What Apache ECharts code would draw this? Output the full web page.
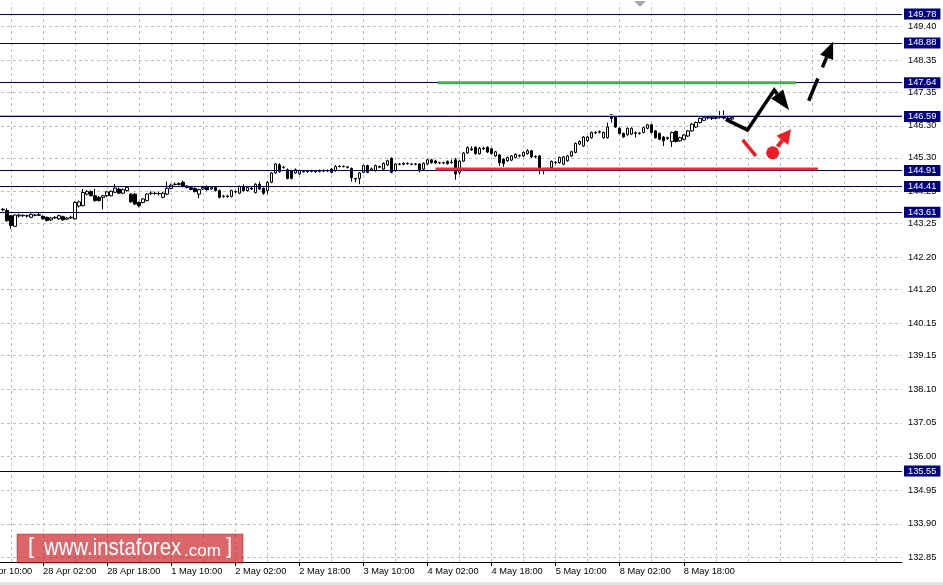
<!DOCTYPE html>
<html><head><meta charset="utf-8">
<script src="https://cdn.jsdelivr.net/npm/echarts@6/dist/echarts.min.js"></script>
<style>html,body{margin:0;padding:0;background:#fff;}#c{width:943px;height:585px;}</style>
</head><body><div id="c"></div>
<script>
// ---- tick labels (every 16 hourly bars) ----
const tickLabels = ['27 Apr 10:00','28 Apr 02:00','28 Apr 18:00','1 May 10:00','2 May 02:00','2 May 18:00','3 May 10:00','4 May 02:00','4 May 18:00','5 May 10:00','8 May 02:00','8 May 18:00'];
const barsPerLabel = 16;
const barsPerGrid = 8;
const firstBarSlot = 6;   // first candle = 27 Apr 16:00
const slotCount = 231;

// ---- H1 candles ----
const opens = [
143.70,143.66,143.50,143.17,143.49,143.51,143.49,143.45,143.51,143.53,
143.48,143.45,143.37,143.43,143.40,143.47,143.39,143.43,143.40,143.80,
143.81,144.17,144.25,144.12,144.07,144.07,144.12,144.12,144.23,144.33,
144.20,144.28,144.17,144.17,143.91,143.91,143.97,144.19,144.20,144.19,
144.07,144.17,144.35,144.48,144.47,144.54,144.42,144.37,144.35,144.17,
144.33,144.41,144.33,144.38,144.28,144.10,144.11,144.10,144.25,144.20,
144.41,144.28,144.36,144.22,144.48,144.35,144.28,144.54,144.83,145.08,
145.01,144.93,144.90,144.83,144.80,144.88,144.87,144.88,144.88,144.88,
144.90,144.89,144.95,144.90,145.03,145.04,145.02,144.97,144.66,144.66,
144.85,145.06,144.92,144.90,145.03,144.95,145.08,145.28,144.90,145.11,
145.10,145.13,145.11,145.10,145.11,144.95,145.11,145.24,145.20,145.15,
145.14,145.19,145.15,145.24,144.85,145.20,145.45,145.55,145.63,145.43,
145.58,145.63,145.58,145.36,145.39,145.26,145.21,145.23,145.31,145.37,
145.36,145.43,145.52,145.34,145.36,144.93,144.94,145.00,145.16,145.15,
145.10,145.21,145.36,145.47,145.73,145.67,145.83,145.93,146.08,146.10,
145.93,145.93,146.64,146.58,146.22,146.06,146.02,146.04,146.08,146.06,
146.09,146.22,146.33,146.14,146.06,145.95,145.90,145.81,146.12,145.83,
145.88,145.98,146.14,146.26,146.40,146.47,146.54,146.55,146.53,146.56,
146.57,146.54,146.51];
const highs = [
143.74,143.73,143.52,143.54,143.56,143.54,143.53,143.57,143.55,143.58,
143.51,143.47,143.46,143.48,143.53,143.50,143.46,143.50,143.95,143.97,
144.33,144.30,144.29,144.33,144.12,144.15,144.27,144.28,144.49,144.38,
144.35,144.41,144.20,144.20,143.94,144.05,144.20,144.26,144.25,144.24,
144.24,144.56,144.50,144.53,144.53,144.59,144.45,144.40,144.38,144.34,
144.43,144.44,144.41,144.41,144.31,144.15,144.15,144.31,144.29,144.44,
144.47,144.41,144.40,144.51,144.56,144.38,144.57,144.86,145.14,145.14,
145.05,144.97,144.93,144.97,144.93,144.91,144.92,144.93,144.91,144.94,
144.94,144.94,144.98,145.07,145.07,145.06,145.04,145.00,144.68,144.86,
145.09,145.09,145.00,145.09,145.06,145.16,145.24,145.32,145.14,145.14,
145.16,145.16,145.14,145.14,145.14,145.16,145.27,145.27,145.24,145.18,
145.18,145.22,145.25,145.30,145.23,145.48,145.66,145.66,145.66,145.64,
145.65,145.66,145.61,145.52,145.42,145.29,145.34,145.39,145.44,145.41,
145.50,145.57,145.55,145.38,145.39,144.97,145.00,145.22,145.20,145.34,
145.36,145.39,145.52,145.78,145.84,145.98,145.98,146.12,146.13,146.15,
146.12,146.40,146.66,146.60,146.25,146.09,146.25,146.25,146.12,146.10,
146.27,146.36,146.36,146.17,146.09,145.98,145.96,146.12,146.15,145.96,
146.04,146.17,146.38,146.43,146.56,146.59,146.60,146.59,146.60,146.76,
146.78,146.60,146.58];
const lows = [
143.64,143.31,143.09,143.15,143.44,143.46,143.44,143.42,143.48,143.49,
143.37,143.32,143.33,143.40,143.37,143.34,143.36,143.40,143.37,143.75,
143.79,144.13,144.10,143.94,143.94,143.70,144.08,144.10,144.20,144.18,
144.17,144.25,143.90,143.83,143.76,143.88,143.94,144.14,144.15,144.13,
144.04,144.14,144.32,144.44,144.44,144.38,144.35,144.29,144.22,144.04,
144.30,144.28,144.30,144.25,144.04,144.06,144.06,144.07,144.20,144.17,
144.25,144.25,144.30,144.19,144.30,144.15,144.17,144.51,144.80,144.84,
144.96,144.63,144.63,144.80,144.77,144.84,144.84,144.85,144.84,144.85,
144.86,144.86,144.82,144.87,145.01,145.00,144.97,144.56,144.54,144.48,
144.82,144.82,144.89,144.87,144.98,144.92,145.05,144.82,144.87,145.07,
145.07,145.09,145.07,145.07,144.85,144.92,145.08,145.12,145.11,145.11,
145.11,145.09,145.12,144.62,144.78,145.17,145.42,145.52,145.40,145.40,
145.54,145.45,145.40,145.33,145.05,145.02,145.18,145.20,145.28,145.32,
145.33,145.40,145.30,145.29,144.79,144.79,144.90,144.97,145.10,145.12,
145.07,145.18,145.33,145.44,145.70,145.64,145.80,145.90,146.04,146.06,
145.90,145.90,146.40,146.23,146.03,145.92,145.99,146.01,145.93,146.02,
146.06,146.19,146.06,145.90,145.85,145.67,145.86,145.64,145.78,145.80,
145.85,145.95,146.11,146.23,146.37,146.44,146.50,146.48,146.50,146.52,
146.50,146.48,146.47];
const closes = [
143.68,143.34,143.19,143.52,143.52,143.50,143.50,143.54,143.52,143.51,
143.40,143.35,143.43,143.45,143.50,143.37,143.43,143.45,143.91,143.93,
144.22,144.25,144.12,143.97,143.97,144.12,144.24,144.26,144.36,144.20,
144.31,144.38,143.93,143.86,143.81,144.02,144.17,144.20,144.19,144.18,
144.20,144.35,144.45,144.47,144.50,144.41,144.38,144.32,144.25,144.31,
144.38,144.31,144.38,144.28,144.07,144.11,144.10,144.28,144.24,144.41,
144.28,144.38,144.33,144.48,144.33,144.20,144.54,144.83,145.11,144.87,
145.00,144.66,144.66,144.93,144.90,144.87,144.88,144.89,144.87,144.90,
144.89,144.90,144.85,145.03,145.04,145.03,145.00,144.69,144.64,144.83,
145.06,144.85,144.96,145.06,145.01,145.13,145.21,144.85,145.11,145.10,
145.13,145.12,145.10,145.11,144.93,145.13,145.24,145.15,145.14,145.14,
145.15,145.12,145.16,144.80,145.20,145.45,145.62,145.58,145.43,145.60,
145.60,145.48,145.43,145.49,145.15,145.12,145.31,145.36,145.41,145.36,
145.47,145.52,145.33,145.33,144.95,144.91,144.95,145.19,145.15,145.31,
145.33,145.36,145.49,145.75,145.81,145.95,145.95,146.09,146.09,146.12,
146.09,146.26,146.53,146.26,146.06,145.95,146.22,146.22,146.06,146.07,
146.24,146.33,146.09,145.93,145.88,145.83,145.93,146.09,145.81,145.93,
146.01,146.14,146.35,146.40,146.53,146.55,146.56,146.53,146.56,146.58,
146.54,146.51,146.55];

// ---- price axis ----
const priceMin = 132.714, priceMax = 150.123;
const gridPrices = [149.40,148.35,147.35,146.30,145.30,144.25,143.25,142.20,141.20,140.15,139.15,138.10,137.05,136.00,134.95,133.90,132.85];
const levelPrices = [149.78,148.88,147.64,146.59,144.91,144.41,143.61,135.55];
const bidPrice = 146.615;

// ---- annotations (slot index, price) ----
const greenLine = [[114.5,147.64],[204,147.64]];
const redLine = [[114,144.95],[209.5,144.95]];
const blackPath = [[186.5,146.50],[191.9,146.17],[198.6,147.41],[202.3,146.79]];
const redDash = [[190.7,145.86],[194,145.36]];
const redDot = [198.2,145.46];
const redArrow = [[199.4,145.65],[202.75,146.19]];
const dashedArrow = [[207.2,147.08],[213.3,148.92]];

const FONT = '"Liberation Sans", Arial, sans-serif';
const slots = Array.from({length: slotCount}, (_, k) => String(k));
const candleData = opens.map((o, i) => [i + firstBarSlot, o, closes[i], lows[i], highs[i]]);
const vGrid = [];
for (let k = barsPerGrid; k < slotCount; k += barsPerGrid) vGrid.push({xAxis: k});
const hasLabel = (i) => i % barsPerLabel === 0 && i / barsPerLabel < tickLabels.length;

function head(a, b, len, half) {
  const dx = b[0]-a[0], dy = b[1]-a[1], d = Math.hypot(dx, dy), ux = dx/d, uy = dy/d;
  const bx = b[0]-ux*len, by = b[1]-uy*len;
  return {tip: b, base: [bx, by], pts: [b, [bx - uy*half, by + ux*half], [bx + uy*half, by - ux*half]]};
}

function renderAnn(params, api) {
  const c = p => api.coord(p);
  const kids = [];
  kids.push({type:'polyline', shape:{points: greenLine.map(c)}, style:{stroke:'#3bb54a', lineWidth:3, fill:null}});
  kids.push({type:'polyline', shape:{points: redLine.map(c)}, style:{stroke:'#ee2b33', lineWidth:3, fill:null}});
  const bp = blackPath.map(c);
  const bh = head(bp[bp.length-2], bp[bp.length-1], 20, 7.5);
  const bpts = bp.slice(0, -1).concat([bh.base]);
  kids.push({type:'polyline', shape:{points: bpts}, style:{stroke:'#000', lineWidth:3.5, fill:null, lineJoin:'miter'}});
  kids.push({type:'polygon', shape:{points: bh.pts}, style:{fill:'#000'}});
  kids.push({type:'polyline', shape:{points: redDash.map(c)}, style:{stroke:'#ee1c25', lineWidth:3.5, fill:null}});
  const dc = c(redDot);
  kids.push({type:'circle', shape:{cx: dc[0], cy: dc[1], r: 6.5}, style:{fill:'#ee1c25'}});
  const ra = redArrow.map(c);
  const rh = head(ra[0], ra[1], 14, 7.5);
  kids.push({type:'line', shape:{x1: ra[0][0], y1: ra[0][1], x2: rh.base[0], y2: rh.base[1]}, style:{stroke:'#ee1c25', lineWidth:4}});
  kids.push({type:'polygon', shape:{points: rh.pts}, style:{fill:'#ee1c25'}});
  const da = dashedArrow.map(c);
  const dh = head(da[0], da[1], 17, 7);
  kids.push({type:'line', shape:{x1: da[0][0], y1: da[0][1], x2: dh.base[0], y2: dh.base[1]}, style:{stroke:'#000', lineWidth:3.5, lineDash:[24,12]}});
  kids.push({type:'polygon', shape:{points: dh.pts}, style:{fill:'#000'}});
  return {type:'group', children: kids};
}

const chart = echarts.init(document.getElementById('c'), null, {renderer:'canvas'});
chart.setOption({
  animation: false,
  backgroundColor: '#ffffff',
  grid: {left: -23, right: 41, top: 3, bottom: 23, containLabel: false, outerBoundsMode: 'none'},
  xAxis: [{
    type: 'category', data: slots, boundaryGap: true,
    axisLine: {show: true, lineStyle: {color: '#000', width: 1}},
    axisTick: {show: true, alignWithLabel: true, length: 4, interval: (i) => hasLabel(i), lineStyle: {color: '#000'}},
    axisLabel: {show: true, interval: (i) => hasLabel(i), align: 'left', margin: 5,
      formatter: (v, i) => (hasLabel(i) ? tickLabels[i / barsPerLabel] : ''),
      color: '#000', fontSize: 9.3, fontFamily: FONT},
    splitLine: {show: false}
  }, {
    type: 'value', show: false, min: -0.5, max: slotCount - 0.5, splitLine: {show: false}
  }],
  yAxis: {
    type: 'value', position: 'right', min: priceMin, max: priceMax, scale: true,
    axisLine: {show: true, lineStyle: {color: '#000', width: 2}},
    axisTick: {show: true, customValues: gridPrices, length: 3, lineStyle: {color: '#000'}},
    axisLabel: {show: true, customValues: gridPrices, margin: 6, formatter: v => v.toFixed(2), color: '#000', fontSize: 9.3, fontFamily: FONT},
    splitLine: {show: false}
  },
  series: [{
    type: 'custom', xAxisIndex: 1, yAxisIndex: 0, z: 10, clip: false, silent: true,
    data: [[0, 140]], renderItem: renderAnn,
    markLine: {
      silent: true, symbol: ['none','none'], z: 1, animation: false,
      label: {show: false},
      lineStyle: {color: '#c0c0c0', width: 1, type: [3,3]},
      data: gridPrices.map(v => ({yAxis: v})).concat(vGrid)
    }
  }, {
    type: 'candlestick', xAxisIndex: 0, yAxisIndex: 0, z: 3, silent: true,
    barWidth: 3,
    encode: {x: 0, y: [1,2,3,4]},
    itemStyle: {color: '#ffffff', color0: '#000000', borderColor: '#000000', borderColor0: '#000000', borderWidth: 1},
    data: candleData,
    markLine: {
      silent: true, symbol: ['none','none'], z: 4, animation: false,
      data: [{yAxis: bidPrice, lineStyle: {color: '#b8b8b8', width: 2, type: 'solid'}, label: {show: false}}]
        .concat(levelPrices.map(v => ({yAxis: v}))),
      lineStyle: {color: '#000060', width: 1, type: 'solid'},
      label: {show: true, position: 'end', distance: 2, formatter: p => Number(p.value).toFixed(2),
        color: '#ffffff', backgroundColor: '#000080', padding: [1, 4, 0, 4], lineHeight: 10,
        fontSize: 9.3, fontFamily: FONT}
    }
  }],
  graphic: [
    {type: 'polygon', shape: {points: [[634, 1], [646, 1], [640, 7]]}, style: {fill: '#a8a8a8'}, z: 20},
    {type: 'rect', shape: {x: 17, y: 534, width: 226, height: 29}, style: {fill: 'rgba(200,25,30,0.66)', stroke: 'rgba(170,20,20,0.45)', lineWidth: 1}, z: 20},
    {type: 'text', x: 28, y: 536, style: {text: '[', fill: '#fff', font: '22px ' + FONT}, z: 21},
    {type: 'text', x: 44, y: 536, scaleX: 0.85, style: {text: 'www.instaforex', fill: '#fff', font: '24px ' + FONT}, z: 21},
    {type: 'text', x: 184, y: 543, style: {text: '.com', fill: '#fff', font: '17px ' + FONT}, z: 21},
    {type: 'text', x: 226, y: 536, style: {text: ']', fill: '#fff', font: '22px ' + FONT}, z: 21},
    {type: 'rect', shape: {x: 0, y: 582, width: 943, height: 3}, style: {fill: '#e4e4e4'}, z: 20}
  ]
});
</script></body></html>
